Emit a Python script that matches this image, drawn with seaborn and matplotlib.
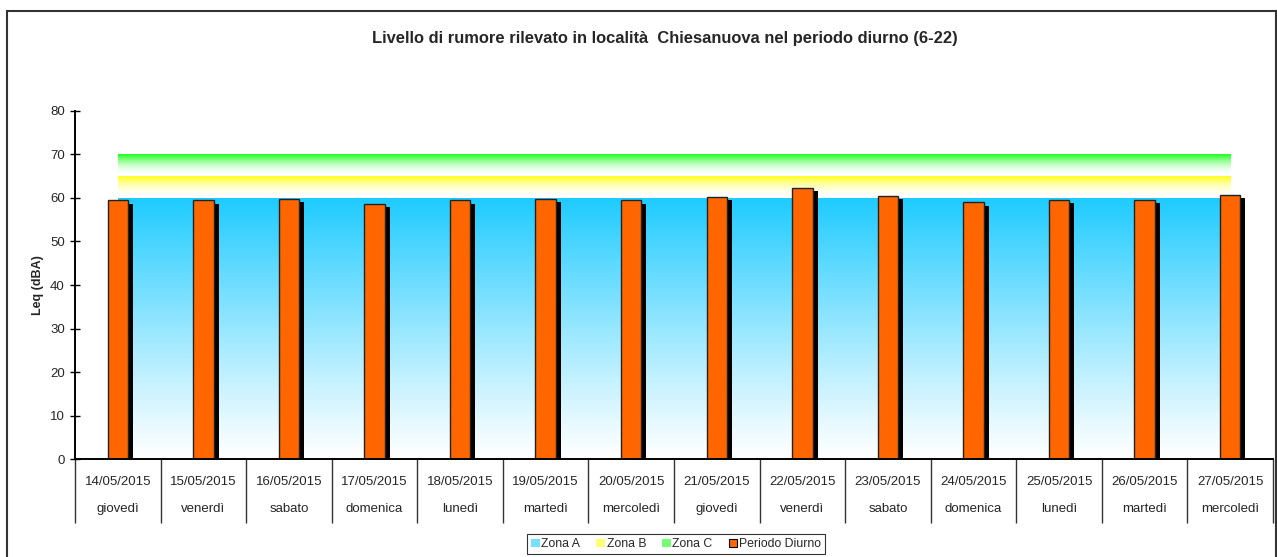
import numpy as np
import pandas as pd
import matplotlib
matplotlib.use("Agg")
import matplotlib.pyplot as plt
import matplotlib.patheffects as pe
from matplotlib.patches import Patch, Rectangle
from matplotlib.colors import LinearSegmentedColormap
import seaborn as sns

# ---- data ----
dates = ["14/05/2015", "15/05/2015", "16/05/2015", "17/05/2015", "18/05/2015",
         "19/05/2015", "20/05/2015", "21/05/2015", "22/05/2015", "23/05/2015",
         "24/05/2015", "25/05/2015", "26/05/2015", "27/05/2015"]
days = ["giovedì", "venerdì", "sabato", "domenica", "lunedì", "martedì", "mercoledì",
        "giovedì", "venerdì", "sabato", "domenica", "lunedì", "martedì", "mercoledì"]
leq_diurno = [59.4, 59.4, 59.7, 58.6, 59.4, 59.7, 59.4, 60.2, 62.3, 60.4, 59.0, 59.5, 59.5, 60.7]
zone_names = ["Zona A", "Zona B", "Zona C"]
zone_low = [0, 60, 65]
zone_high = [60, 65, 70]
zone_colors = ["#1ECBFF", "#FFFF1A", "#1AFF1A"]
title = "Livello di rumore rilevato in località  Chiesanuova nel periodo diurno (6-22)"
y_ticks = [0, 10, 20, 30, 40, 50, 60, 70, 80]

df = pd.DataFrame({"label": [f"{d}\n\n{g}" for d, g in zip(dates, days)],
                   "leq": leq_diurno})

sns.set_theme(style="white")
plt.rcParams["font.family"] = ["Liberation Sans", "DejaVu Sans"]

fig = plt.figure(figsize=(12.77, 5.57), dpi=100)
ax = fig.add_axes([75 / 1277, 1 - 459.3 / 557, (1273 - 75) / 1277, (459.3 - 110.7) / 557])

n = len(dates)
# zone gradients (spanning first to last category)
powers = [0.9, 0.5, 0.5]
for lo, hi, col, pw in zip(zone_low, zone_high, zone_colors, powers):
    cmap = LinearSegmentedColormap.from_list("z", ["#FFFFFF", col])
    grad = (np.linspace(1, 0, 256) ** (1 / pw)).reshape(-1, 1)
    ax.imshow(grad, cmap=cmap, vmin=0, vmax=1, aspect="auto",
              extent=(0, n - 1, lo, hi), zorder=0.5, interpolation="bilinear")

sns.barplot(data=df, x="label", y="leq", color="#FF6600", saturation=1,
            width=0.24, edgecolor="#222222", linewidth=1.0, ax=ax, zorder=3)
for p in ax.patches:
    p.set_path_effects([pe.SimplePatchShadow(offset=(3.6, -2.4), shadow_rgbFace="black", alpha=1.0),
                        pe.Normal()])

ax.set_xlim(-0.5, n - 0.5)
ax.set_ylim(0, 80)
ax.set_yticks(y_ticks)
ax.set_facecolor("white")
for s in ["top", "right"]:
    ax.spines[s].set_visible(False)
for s in ["left", "bottom"]:
    ax.spines[s].set_color("black")
    ax.spines[s].set_linewidth(1.4)
    ax.spines[s].set_zorder(5)

ax.tick_params(axis="y", direction="inout", length=6.5, width=1.0, color="black",
               labelsize=9.5, pad=4, left=True)
ax.set_xticks(range(n))
ax.set_xticklabels(df["label"], fontsize=9.5)
for t in ax.get_xticklabels():
    t.set_linespacing(1.18)
ax.tick_params(axis="x", which="major", length=0, pad=12)
ax.set_xticks(np.arange(-0.5, n, 1.0), minor=True)
ax.tick_params(axis="x", which="minor", direction="out", length=46, width=1.0,
               color="#333333", bottom=True)
ax.set_xlabel("")
ax.set_ylabel("Leq (dBA)", fontsize=9, fontweight="bold", labelpad=4)

fig.text(665 / 1277, 1 - 38 / 557, title, ha="center", va="center",
         fontsize=11.9, fontweight="bold")

handles = [Patch(facecolor=c, edgecolor="none", alpha=0.6) for c in zone_colors]
handles.append(Patch(facecolor="#FF6600", edgecolor="black", linewidth=0.8))
leg = fig.legend(handles, zone_names + ["Periodo Diurno"], loc="center",
                 bbox_to_anchor=(676 / 1277, 1 - 544 / 557), ncol=4, fontsize=8.8,
                 handlelength=0.7, handleheight=0.6, handletextpad=0.15,
                 columnspacing=1.3, frameon=True, fancybox=False, borderpad=0.35)
leg.get_frame().set_edgecolor("black")
leg.get_frame().set_linewidth(0.8)

fig.patches.append(Rectangle((7 / 1277, -0.05), (1276 - 7) / 1277, 1.05 - 10.5 / 557,
                             transform=fig.transFigure, fill=False, edgecolor="#333333",
                             linewidth=1.5, zorder=10))

fig.savefig("out.png", dpi=100)
